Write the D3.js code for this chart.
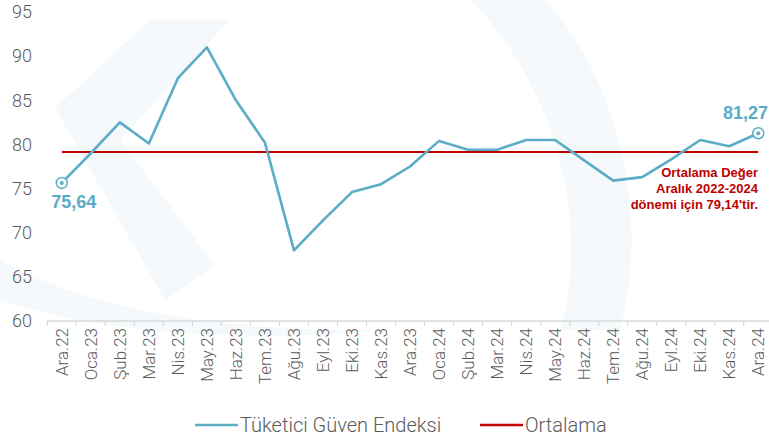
<!DOCTYPE html>
<html>
<head>
<meta charset="utf-8">
<script src="https://cdn.jsdelivr.net/npm/d3@7"></script>
<style>
  body { margin: 0; background: #fff; }
  svg { display: block; font-family: "Liberation Sans", Arial, sans-serif; }
  .light { font-family: Roboto, "Liberation Sans", sans-serif; font-weight: 300; }
</style>
</head>
<body>
<svg id="chart" width="769" height="436"></svg>
<script>
// Data
const months = ["Ara.22","Oca.23","Şub.23","Mar.23","Nis.23","May.23","Haz.23","Tem.23","Ağu.23","Eyl.23","Eki.23","Kas.23","Ara.23",
  "Oca.24","Şub.24","Mar.24","Nis.24","May.24","Haz.24","Tem.24","Ağu.24","Eyl.24","Eki.24","Kas.24","Ara.24"];
const confidence = [75.64, 79.0, 82.5, 80.1, 87.5, 91.0, 85.0, 80.2, 68.0, 71.4, 74.6, 75.5, 77.5,
  80.4, 79.4, 79.4, 80.5, 80.5, 78.2, 75.9, 76.3, 78.3, 80.5, 79.8, 81.27];
const average = 79.14;
const yTicks = [60, 65, 70, 75, 80, 85, 90, 95];
const noteLines = ["Ortalama Değer", "Aralık 2022-2024", "dönemi için 79,14'tir."];
const legendItems = ["Tüketici Güven Endeksi", "Ortalama"];

const blue = "#5BACC5", red = "#C00000", grey = "#5a5a5a";

const svg = d3.select("#chart");

// faint watermark shapes in the background
const wm = svg.append("g").attr("fill", "#f6f9fb");
wm.append("path").attr("d", "M55,108 L150,20 L230,20 L120,140 L215,265 L165,300 Z");
wm.append("path").attr("d", "M470,0 C560,90 590,230 560,330 L620,330 C650,220 620,80 545,0 Z");
wm.append("path").attr("d", "M0,260 C90,310 220,330 360,330 L380,330 C230,345 90,330 0,300 Z");

const x = d3.scaleBand().domain(months).range([47.3, 772.8]);
const cx = d => x(d) + x.bandwidth() / 2;
const y = d3.scaleLinear().domain([60, 95]).range([321, 12]);

// y tick labels
svg.append("g").attr("class", "light").selectAll("text").data(yTicks).join("text")
  .attr("x", 32).attr("y", d => y(d)).attr("dy", "0.35em")
  .attr("text-anchor", "end").attr("font-size", 18).attr("fill", grey)
  .text(d => d);

// x axis line and ticks at category boundaries
const axis = svg.append("g");
axis.append("line").attr("x1", 47).attr("x2", 769).attr("y1", 321).attr("y2", 321)
  .attr("stroke", "#d9d9d9").attr("stroke-width", 1.5);
axis.selectAll("line.tick").data(months).join("line").attr("class", "tick")
  .attr("x1", d => x(d)).attr("x2", d => x(d)).attr("y1", 321).attr("y2", 326)
  .attr("stroke", "#d9d9d9").attr("stroke-width", 1.2);
axis.selectAll("text").data(months).join("text").attr("class", "light")
  .attr("transform", d => `translate(${cx(d) + 6},328) rotate(-90)`)
  .attr("text-anchor", "end").attr("font-size", 17).attr("fill", grey)
  .text(d => d);

// average line
svg.append("line")
  .attr("x1", cx(months[0])).attr("x2", cx(months[months.length - 1]))
  .attr("y1", y(average)).attr("y2", y(average))
  .attr("stroke", red).attr("stroke-width", 2);

// index line
const pts = months.map((m, i) => [cx(m), y(confidence[i])]);
svg.append("path").attr("d", d3.line()(pts))
  .attr("fill", "none").attr("stroke", blue).attr("stroke-width", 2.6)
  .attr("stroke-linejoin", "round");

// end markers
[0, months.length - 1].forEach(i => {
  svg.append("circle").attr("cx", pts[i][0]).attr("cy", pts[i][1]).attr("r", 5.5)
    .attr("fill", "#fff").attr("stroke", blue).attr("stroke-width", 1.5);
  svg.append("circle").attr("cx", pts[i][0]).attr("cy", pts[i][1]).attr("r", 2)
    .attr("fill", blue);
});

const fmt = v => v.toFixed(2).replace(".", ",");
svg.append("text").attr("x", pts[0][0] + 12).attr("y", pts[0][1] + 25)
  .attr("text-anchor", "middle").attr("font-size", 18).attr("font-weight", "bold")
  .attr("fill", blue).text(fmt(confidence[0]));
const last = pts[pts.length - 1];
svg.append("text").attr("x", 768).attr("y", last[1] - 14)
  .attr("text-anchor", "end").attr("font-size", 18).attr("font-weight", "bold")
  .attr("fill", blue).text(fmt(confidence[confidence.length - 1]));

// annotation
svg.append("g").selectAll("text").data(noteLines).join("text")
  .attr("x", 758).attr("y", (d, i) => 177 + i * 16)
  .attr("text-anchor", "end").attr("font-size", 13).attr("font-weight", "bold")
  .attr("fill", red).text(d => d);

// legend
const legendX = [195, 480], legendColors = [blue, red];
const lg = svg.append("g").selectAll("g").data(legendItems).join("g")
  .attr("transform", (d, i) => `translate(${legendX[i]},425)`);
lg.append("line").attr("x1", 0).attr("x2", 43).attr("y1", 0).attr("y2", 0)
  .attr("stroke", (d, i) => legendColors[i]).attr("stroke-width", 2.6);
lg.append("text").attr("class", "light").attr("x", 45).attr("dy", "0.35em").attr("font-size", 20)
  .attr("fill", grey).text(d => d);
</script>
</body>
</html>
